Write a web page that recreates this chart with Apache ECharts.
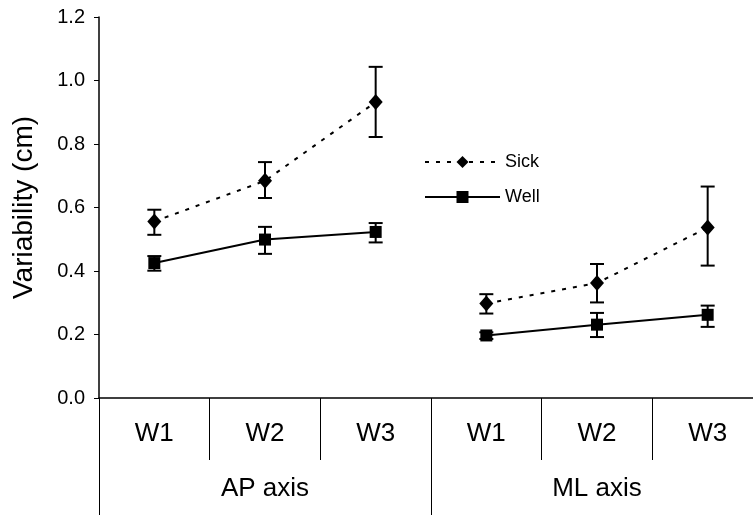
<!DOCTYPE html>
<html>
<head>
<meta charset="utf-8">
<script src="https://cdn.jsdelivr.net/npm/echarts@6/dist/echarts.min.js"></script>
<style>
html,body{margin:0;padding:0;background:#fff;}
#chart{width:753px;height:515px;}
</style>
</head>
<body>
<div id="chart"></div>
<script>
// ---- data ----
const categories = ['W1', 'W2', 'W3', 'W1', 'W2', 'W3'];
const groups = ['AP axis', 'ML axis'];
const sickAP = [0.556, 0.684, 0.932];
const sickML = [0.298, 0.362, 0.537];
const wellAP = [0.425, 0.499, 0.523];
const wellML = [0.197, 0.231, 0.262];
const sickLow  = [0.514, 0.630, 0.822, 0.266, 0.301, 0.417];
const sickHigh = [0.593, 0.743, 1.043, 0.327, 0.422, 0.666];
const wellLow  = [0.401, 0.454, 0.490, 0.186, 0.192, 0.224];
const wellHigh = [0.447, 0.539, 0.551, 0.207, 0.268, 0.291];
const yTicks = [0, 0.2, 0.4, 0.6, 0.8, 1.0, 1.2];

const FONT = 'Liberation Sans, Arial, Helvetica, sans-serif';
const blank = ['-', '-', '-'];

function errData(lo, hi) {
  return lo.map((l, i) => [i, l, hi[i]]);
}
function errSeries(lo, hi) {
  return {
    type: 'custom',
    name: 'err',
    xAxisIndex: 0,
    yAxisIndex: 0,
    z: 2,
    silent: true,
    encode: { x: 0, y: [1, 2] },
    data: errData(lo, hi),
    renderItem: function (params, api) {
      const x = api.value(0);
      const top = api.coord([x, api.value(2)]);
      const bot = api.coord([x, api.value(1)]);
      const hw = 7;
      const st = { stroke: '#000', lineWidth: 2 };
      return {
        type: 'group',
        children: [
          { type: 'line', shape: { x1: top[0], y1: top[1], x2: bot[0], y2: bot[1] }, style: st },
          { type: 'line', shape: { x1: top[0] - hw, y1: top[1], x2: top[0] + hw, y2: top[1] }, style: st },
          { type: 'line', shape: { x1: bot[0] - hw, y1: bot[1], x2: bot[0] + hw, y2: bot[1] }, style: st }
        ]
      };
    }
  };
}
function lineSeries(name, data, dashed, symbol, size) {
  return {
    type: 'line',
    name: name,
    xAxisIndex: 0,
    yAxisIndex: 0,
    z: 3,
    data: data,
    symbol: symbol,
    symbolSize: size,
    showAllSymbol: true,
    lineStyle: { color: '#000', width: 2, type: dashed ? [4, 7] : 'solid' },
    itemStyle: { color: '#000', borderWidth: 0 }
  };
}

const chart = echarts.init(document.getElementById('chart'), null, { renderer: 'canvas' });
chart.setOption({
  animation: false,
  backgroundColor: '#fff',
  grid: { left: 99, top: 17, width: 664, height: 381, containLabel: false, outerBoundsMode: 'none' },
  legend: {
    data: ['Sick', 'Well'],
    orient: 'vertical',
    left: 419,
    top: 148,
    itemWidth: 75,
    itemHeight: 15,
    itemGap: 17,
    textStyle: { fontFamily: FONT, fontSize: 18, color: '#000' },
    selectedMode: false
  },
  xAxis: [
    {
      type: 'category',
      data: categories,
      position: 'bottom',
      boundaryGap: true,
      axisLine: { show: true, lineStyle: { color: '#000', width: 1.5 } },
      axisTick: { show: true, interval: 0, length: 62, lineStyle: { color: '#000', width: 1 } },
      axisLabel: { interval: 0, fontFamily: FONT, fontSize: 26, color: '#000', margin: 23 },
      splitLine: { show: false }
    },
    {
      type: 'category',
      data: groups,
      position: 'bottom',
      boundaryGap: true,
      axisLine: { show: false },
      axisTick: { show: true, interval: 0, length: 118, lineStyle: { color: '#000', width: 1 } },
      axisLabel: { interval: 0, fontFamily: FONT, fontSize: 26, color: '#000', margin: 78 },
      splitLine: { show: false }
    }
  ],
  yAxis: {
    type: 'value',
    min: yTicks[0],
    max: yTicks[yTicks.length - 1],
    interval: 0.2,
    name: 'Variability (cm)',
    nameLocation: 'middle',
    nameGap: 61,
    nameTextStyle: { fontFamily: FONT, fontSize: 28, color: '#000' },
    axisLine: { show: true, lineStyle: { color: '#000', width: 1.5 } },
    axisTick: { show: true, length: 5, lineStyle: { color: '#000', width: 1 } },
    axisLabel: { fontFamily: FONT, fontSize: 20, color: '#000', margin: 14, formatter: v => v.toFixed(1) },
    splitLine: { show: false }
  },
  series: [
    errSeries(sickLow, sickHigh),
    errSeries(wellLow, wellHigh),
    lineSeries('Sick', sickAP.concat(blank), true, 'diamond', [14, 16]),
    lineSeries('Sick', blank.concat(sickML), true, 'diamond', [14, 16]),
    lineSeries('Well', wellAP.concat(blank), false, 'rect', 12),
    lineSeries('Well', blank.concat(wellML), false, 'rect', 12)
  ]
});
</script>
</body>
</html>
